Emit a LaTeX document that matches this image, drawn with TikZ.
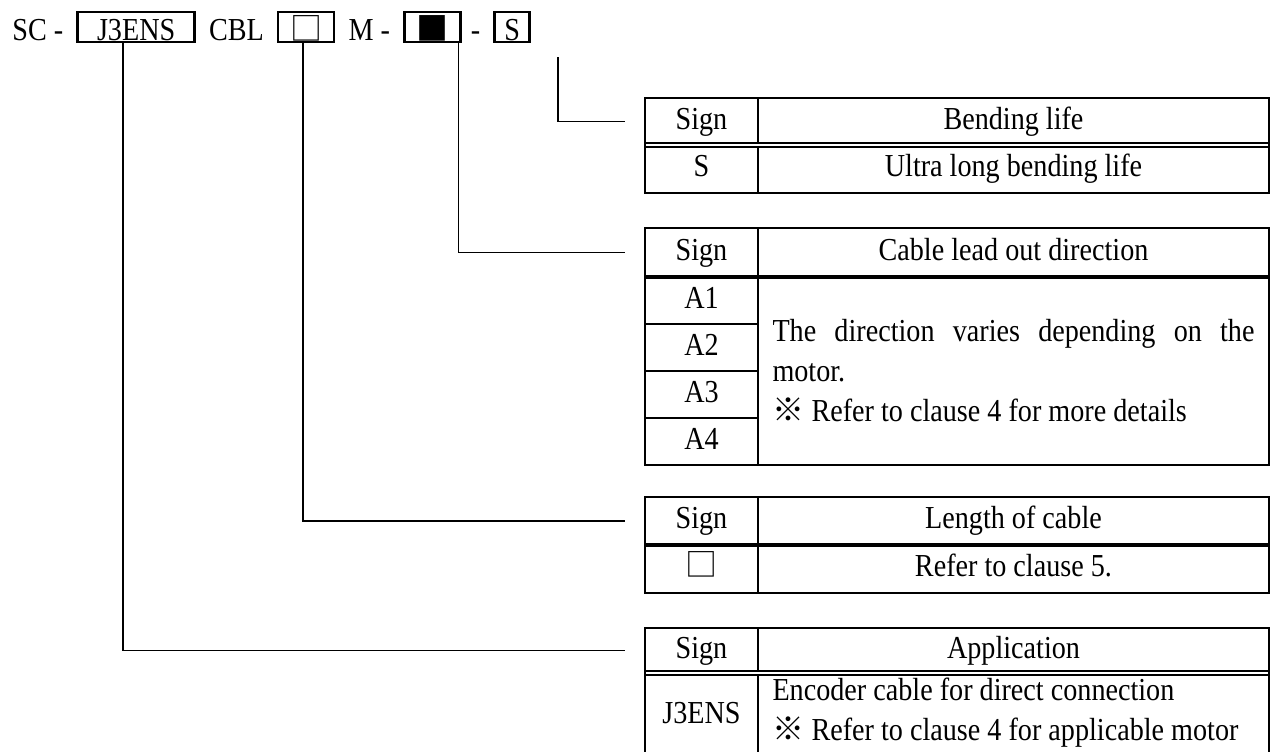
\documentclass[tikz,border=0pt]{standalone}
\usepackage{fontspec}
\setmainfont{Liberation Serif}[FakeStretch=0.88]
\newfontfamily\cjk{Noto Sans CJK JP}
\usetikzlibrary{positioning}
\newcommand{\refmark}{{\cjk ※}}
\newcommand{\wsq}{{\cjk □}}
\newcommand{\bsq}{{\cjk ■}}
\hyphenpenalty=10000

\begin{document}
\begin{tikzpicture}[
    x=0.5pt, y=-0.5pt,
    font=\fontsize{16}{20}\selectfont,
    node distance=7pt,
    code/.style={inner sep=0pt, text height=14pt, text depth=1pt},
    codebox/.style={code, draw, line width=1.25pt, outer sep=0pt},
    cell/.style={draw, line width=1pt, outer sep=0pt, inner sep=0pt, align=center},
    line1/.style={text height=11pt, text depth=3.5pt},
    signcell/.style={cell, minimum width=56.5pt},
    desccell/.style={cell, minimum width=255.5pt},
    frame/.style={line width=1.3pt},
    dbl/.style={double, double distance=1.2pt, line width=0.9pt},
    thk/.style={line width=2pt},
    leader/.style={line width=0.9pt}
  ]
  \useasboundingbox (0,0) rectangle (1275,751);

  % model code
  \node[code, anchor=base west] (sc) at (12,40) {SC -};
  \node[codebox, minimum width=58.5pt, base right=7pt of sc] (app) {J3ENS};
  \node[code, base right=7pt of app] (cbl) {CBL};
  \node[codebox, minimum width=28pt, base right=7pt of cbl] (len) {\wsq};
  \node[code, base right=7pt of len] (m) {M -};
  \node[codebox, minimum width=28pt, base right=7pt of m] (dir) {\bsq};
  \node[code, base right=5pt of dir] (dash) {-};
  \node[codebox, minimum width=17.5pt, base right=7pt of dash] (life) {S};
  \coordinate (lifetop) at ([xshift=23pt, yshift=-7.5pt]life.south);

  % bending life
  \node[signcell, line1, minimum height=23.5pt] (lifesign) at (701.5,121.5) {Sign};
  \node[desccell, line1, minimum height=23.5pt, right=0pt of lifesign] (lifehead) {Bending life};
  \node[signcell, line1, minimum height=24pt, below=0pt of lifesign] (lifes) {S};
  \node[desccell, line1, minimum height=24pt, right=0pt of lifes] (lifesdesc) {Ultra long bending life};
  \draw[dbl] (lifesign.south west) -- (lifehead.south east);
  \draw[frame] (lifesign.north west) rectangle (lifesdesc.south east);

  % cable lead out direction
  \node[signcell, line1, minimum height=24.5pt] (dirsign) at (701.5,252.5) {Sign};
  \node[desccell, line1, minimum height=24.5pt, right=0pt of dirsign] (dirhead) {Cable lead out direction};
  \node[signcell, line1, minimum height=23.5pt, below=0pt of dirsign] (a1) {A1};
  \node[signcell, line1, minimum height=23.5pt, below=0pt of a1] (a2) {A2};
  \node[signcell, line1, minimum height=23.5pt, below=0pt of a2] (a3) {A3};
  \node[signcell, line1, minimum height=23.5pt, below=0pt of a3] (a4) {A4};
  \node[desccell, minimum height=94pt, text width=241pt, align=justify, anchor=north west] (dirdesc) at (a1.north east)
    {The direction varies depending on the motor.\par \refmark\ Refer to clause 4 for more details};
  \draw[thk] (dirsign.south west) -- (dirhead.south east);
  \draw[frame] (dirsign.north west) rectangle (dirdesc.south east);

  % length of cable
  \node[signcell, line1, minimum height=24pt] (lensign) at (701.5,521) {Sign};
  \node[desccell, line1, minimum height=24pt, right=0pt of lensign] (lenhead) {Length of cable};
  \node[signcell, line1, minimum height=24pt, below=0pt of lensign] (lensq) {\wsq};
  \node[desccell, line1, minimum height=24pt, right=0pt of lensq] (lendesc) {Refer to clause 5.};
  \draw[thk] (lensign.south west) -- (lenhead.south east);
  \draw[frame] (lensign.north west) rectangle (lendesc.south east);

  % application
  \node[signcell, line1, minimum height=22.5pt] (appsign) at (701.5,650.5) {Sign};
  \node[desccell, line1, minimum height=22.5pt, right=0pt of appsign] (apphead) {Application};
  \node[signcell, minimum height=40pt, anchor=north] (appj) at (appsign.south) {J3ENS};
  \node[desccell, minimum height=40pt, align=left, right=0pt of appj] (appdesc)
    {\makebox[241pt][l]{Encoder cable for direct connection}\\ \refmark\ Refer to clause 4 for applicable motor};
  \draw[dbl] (appsign.south west) -- (apphead.south east);
  \draw[frame] (appsign.north west) rectangle (appdesc.south east);

  \draw[leader] (lifetop) |- ([xshift=-10pt]lifesign.west);
  \draw[leader] ([xshift=13pt]dir.south) |- ([xshift=-10pt]dirsign.west);
  \draw[leader] ([xshift=-1.5pt]len.south) |- ([xshift=-10pt]lensign.west);
  \draw[leader] ([xshift=-6.5pt]app.south) |- ([xshift=-10pt]appsign.west);
\end{tikzpicture}
\end{document}
